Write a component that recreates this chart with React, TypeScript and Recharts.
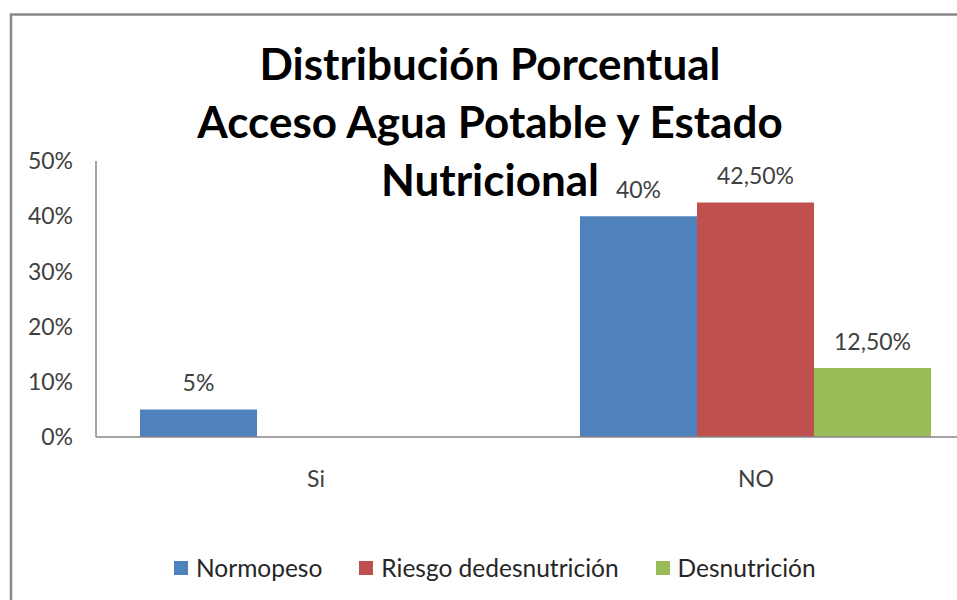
import { BarChart, Bar, XAxis, YAxis, Legend, LabelList } from "recharts";

// values, in percent
const categories = ["Si", "NO"];
const normopeso = [5, 40];
const riesgo = [null, 42.5];
const desnutricion = [null, 12.5];
const yTicks = [0, 10, 20, 30, 40, 50];
const titleLines = ["Distribución Porcentual", "Acceso Agua Potable y Estado", "Nutricional"];

const seriesList = [
  { key: "normopeso", name: "Normopeso", color: "#4F81BD" },
  { key: "riesgo", name: "Riesgo dedesnutrición", color: "#C0504D" },
  { key: "desnutricion", name: "Desnutrición", color: "#9BBB59" },
];

const data = categories.map((cat, i) => ({
  cat,
  normopeso: normopeso[i],
  riesgo: riesgo[i],
  desnutricion: desnutricion[i],
}));

const FONT = "Lato, 'Open Sans', sans-serif";

// excel style label: 5% / 42,50%
const fmtPct = (v: number) =>
  Number.isInteger(v) ? `${v}%` : `${v.toFixed(2).replace(".", ",")}%`;

const renderLabel = (props: any) => {
  const { x, y, width, value } = props;
  if (value == null) return null;
  return (
    <text
      x={x + width / 2}
      y={y - 18}
      textAnchor="middle"
      fontSize={23}
      fontFamily={FONT}
      fill="#404040"
    >
      {fmtPct(value)}
    </text>
  );
};

const renderLegend = () => (
  <div style={{ display: "flex", fontFamily: FONT, fontSize: 24.5, color: "#262626" }}>
    {seriesList.map((s) => (
      <div key={s.key} style={{ display: "flex", alignItems: "center", marginRight: 37 }}>
        <span style={{ width: 14, height: 14, background: s.color, marginRight: 8, display: "inline-block" }} />
        {s.name}
      </div>
    ))}
  </div>
);

function App() {
  // plot runs past the right edge like in the original screenshot, svg clips it
  return (
    <div style={{ position: "fixed", left: 0, top: 0, width: 957, height: 600, overflow: "hidden", background: "#fff" }}>
      <BarChart
        width={957}
        height={600}
        data={data}
        margin={{ top: 161, right: -19, left: 0, bottom: 0 }}
        barCategoryGap="10%"
        barGap={0}
      >
        <XAxis
          dataKey="cat"
          height={133}
          axisLine={{ stroke: "#868686", strokeWidth: 1.5 }}
          tickLine={false}
          tickSize={0}
          tickMargin={34}
          tick={{ fontSize: 23, fontFamily: FONT, fill: "#404040" }}
        />
        <YAxis
          width={96}
          domain={[0, 50]}
          ticks={yTicks}
          tickFormatter={(v) => `${v}%`}
          axisLine={{ stroke: "#868686", strokeWidth: 1.5 }}
          tickLine={false}
          tickSize={0}
          tickMargin={23}
          tick={{ fontSize: 23, fontFamily: FONT, fill: "#404040" }}
        />
        <Legend
          content={renderLegend}
          wrapperStyle={{ left: 174, top: 553, width: "auto", height: 30 }}
        />
        {seriesList.map((s) => (
          <Bar key={s.key} dataKey={s.key} name={s.name} fill={s.color} isAnimationActive={false}>
            <LabelList dataKey={s.key} content={renderLabel} />
          </Bar>
        ))}
      </BarChart>
      <svg width={957} height={600} style={{ position: "absolute", left: 0, top: 0, pointerEvents: "none" }}>
        <path d="M11 600 V14.5 H957" fill="none" stroke="#898989" strokeWidth={2.5} />
        {titleLines.map((line, i) => (
          <text
            key={i}
            x={490}
            y={80 + i * 58}
            textAnchor="middle"
            fontSize={44}
            fontWeight="bold"
            fontFamily={FONT}
            fill="#000"
          >
            {line}
          </text>
        ))}
      </svg>
    </div>
  );
}

export default App;
